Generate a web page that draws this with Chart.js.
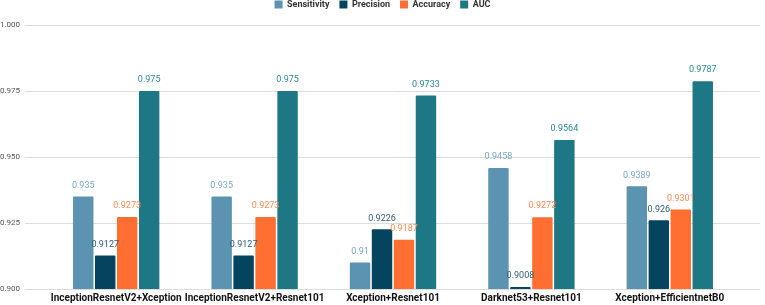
<!DOCTYPE html>
<html><head><meta charset="utf-8">
<script src="https://cdn.jsdelivr.net/npm/chart.js@4.4.1/dist/chart.umd.min.js"></script>
<style>html,body{margin:0;padding:0;background:#fff}#wrap{width:765px;height:305px}</style>
</head><body><div id="wrap"><canvas id="c" width="765" height="305"></canvas></div>
<script>
const categories = ["InceptionResnetV2+Xception","InceptionResnetV2+Resnet101","Xception+Resnet101","Darknet53+Resnet101","Xception+EfficientnetB0"];
const sensitivity = [0.935, 0.935, 0.91, 0.9458, 0.9389];
const precision = [0.9127, 0.9127, 0.9226, 0.9008, 0.926];
const accuracy = [0.9273, 0.9273, 0.9187, 0.9272, 0.9301];
const auc = [0.975, 0.975, 0.9733, 0.9564, 0.9787];
const yTicks = [0.9, 0.925, 0.95, 0.975, 1.0];

const FONT = 'Roboto, "Liberation Sans", sans-serif';
const labelColors = ["#7aa9c6", "#2f5f78", "#ff8a55", "#2a8796"];

const legendFix = {
  id: 'legendFix',
  beforeLayout(chart) {
    const lg = chart.legend;
    if (lg && !lg._patched) {
      const f = lg.fit.bind(lg);
      lg.fit = function () { f(); this.height = 25; };
      lg._patched = true;
    }
  },
  afterLayout(chart) {
    const lg = chart.legend;
    if (lg) {
      const h = lg.bottom - lg.top;
      lg.top = -10; lg.bottom = lg.top + h;
      lg.left += 13; lg.right += 13;
    }
  }
};

const gridExt = {
  id: 'gridExt',
  beforeDatasetsDraw(chart) {
    const ctx = chart.ctx, a = chart.chartArea, y = chart.scales.y;
    ctx.save();
    ctx.strokeStyle = '#dcdcdc';
    ctx.lineWidth = 1;
    yTicks.forEach(v => {
      const py = Math.round(y.getPixelForValue(v)) + 0.5;
      ctx.beginPath();
      ctx.moveTo(a.left - 22, py);
      ctx.lineTo(a.right + 21, py);
      ctx.stroke();
    });
    ctx.restore();
  }
};

const valueLabels = {
  id: 'valueLabels',
  afterDatasetsDraw(chart) {
    const ctx = chart.ctx;
    ctx.save();
    ctx.font = '9px ' + FONT;
    ctx.textAlign = 'center';
    ctx.textBaseline = 'middle';
    chart.data.datasets.forEach((ds, i) => {
      const meta = chart.getDatasetMeta(i);
      meta.data.forEach((bar, j) => {
        ctx.fillStyle = labelColors[i];
        ctx.fillText(String(ds.data[j]), bar.x, bar.y - 11);
      });
    });
    ctx.restore();
  }
};

new Chart(document.getElementById('c'), {
  type: 'bar',
  data: {
    labels: categories,
    datasets: [
      {label: 'Sensitivity', data: sensitivity, backgroundColor: '#5b93b1'},
      {label: 'Precision', data: precision, backgroundColor: '#04445f'},
      {label: 'Accuracy', data: accuracy, backgroundColor: '#ff6f31'},
      {label: 'AUC', data: auc, backgroundColor: '#1e7784'}
    ]
  },
  options: {
    responsive: false,
    animation: false,
    layout: {padding: {left: 0, right: 26, top: 0, bottom: 0}},
    datasets: {bar: {categoryPercentage: 0.635, barPercentage: 0.93, borderRadius: 1}},
    plugins: {
      legend: {
        position: 'top',
        labels: {boxWidth: 8, boxHeight: 8, padding: 10,
          font: {size: 9, weight: 'bold', family: FONT}, color: '#333'}
      },
      tooltip: {enabled: false}
    },
    scales: {
      x: {
        afterFit(axis) { axis.height = 16; axis.paddingLeft = 0; axis.paddingRight = 0; },
        grid: {display: false, drawTicks: false},
        border: {display: false},
        ticks: {color: '#111', autoSkip: false, font: {size: 10, weight: 'bold', family: FONT}, maxRotation: 0, padding: 3}
      },
      y: {
        min: 0.9, max: 1.0,
        afterFit(axis) { axis.width = 47; axis.paddingTop = 0; axis.paddingBottom = 0; },
        afterBuildTicks(axis) { axis.ticks = yTicks.map(v => ({value: v})); },
        grid: {display: false, drawTicks: false},
        border: {display: false},
        ticks: {color: '#555', padding: 27, font: {size: 8, family: FONT}, callback: v => Number(v).toFixed(3)}
      }
    }
  },
  plugins: [legendFix, gridExt, valueLabels]
});
</script></body></html>
